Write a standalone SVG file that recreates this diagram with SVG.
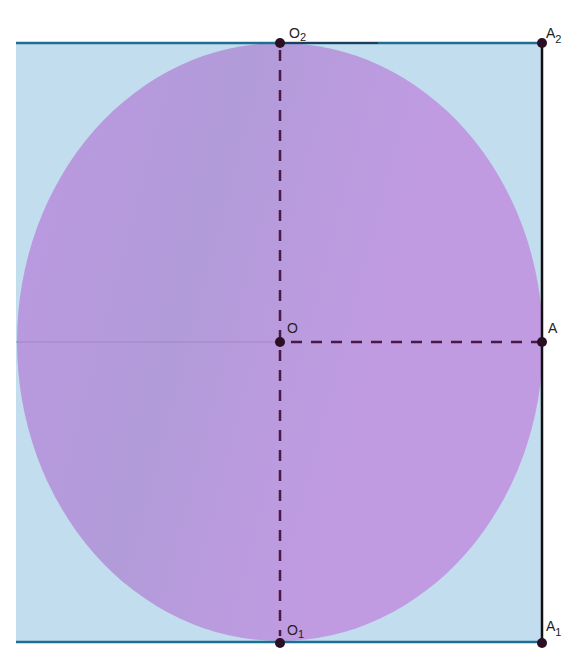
<svg xmlns="http://www.w3.org/2000/svg" width="577" height="649" viewBox="0 0 577 649">
<style>
.lbl{font-family:"Liberation Sans",Arial,sans-serif;font-size:14px;fill:#222}
.sub{font-size:11px}
.pt{fill:#2a0f25}
.dash{stroke:#4a1845;stroke-width:2.5;stroke-dasharray:11,9;fill:none}
.edge{stroke:#1f6f95;stroke-width:2.5}
</style>
<defs>
<linearGradient id="g" x1="0" y1="0" x2="1" y2="0.3">
<stop offset="0" stop-color="#bc98e2"/>
<stop offset="0.4" stop-color="#b29bd9"/>
<stop offset="0.75" stop-color="#c09be2"/>
<stop offset="1" stop-color="#c09be2"/>
</linearGradient>
</defs>
<rect width="577" height="649" fill="#fff"/>
<rect id="square" x="16" y="43" width="526" height="599" fill="#c2dded"/>
<ellipse id="circle" cx="280" cy="342" rx="263" ry="299" fill="url(#g)"/>
<g id="connectors">
<line x1="16" y1="342" x2="280" y2="342" stroke="#a483c4" stroke-width="1"/>
<line class="edge" x1="16" y1="43" x2="542" y2="43"/>
<line x1="280" y1="43" x2="378" y2="43" stroke="#1d3f5e" stroke-width="2"/>
<line class="edge" x1="16" y1="642" x2="542" y2="642"/>
<line x1="542" y1="43" x2="542" y2="642" stroke="#111" stroke-width="2.5"/>
<line class="dash" x1="280" y1="50" x2="280" y2="636"/>
<line class="dash" x1="291" y1="342" x2="540" y2="342"/>
</g>
<g id="O2"><circle class="pt" cx="280" cy="43" r="5"/><text class="lbl" x="289" y="38">O<tspan class="sub" dy="3">2</tspan></text></g>
<g id="A2"><circle class="pt" cx="542" cy="43" r="5"/><text class="lbl" x="546" y="38">A<tspan class="sub" dy="5">2</tspan></text></g>
<g id="O"><circle class="pt" cx="280" cy="342" r="5"/><text class="lbl" x="287" y="333">O</text></g>
<g id="A"><circle class="pt" cx="542" cy="342" r="5"/><text class="lbl" x="548" y="333">A</text></g>
<g id="O1"><circle class="pt" cx="280" cy="643" r="5"/><text class="lbl" x="287" y="635">O<tspan class="sub" dy="3">1</tspan></text></g>
<g id="A1"><circle class="pt" cx="542" cy="643" r="5"/><text class="lbl" x="546" y="631">A<tspan class="sub" dy="5">1</tspan></text></g>
</svg>
